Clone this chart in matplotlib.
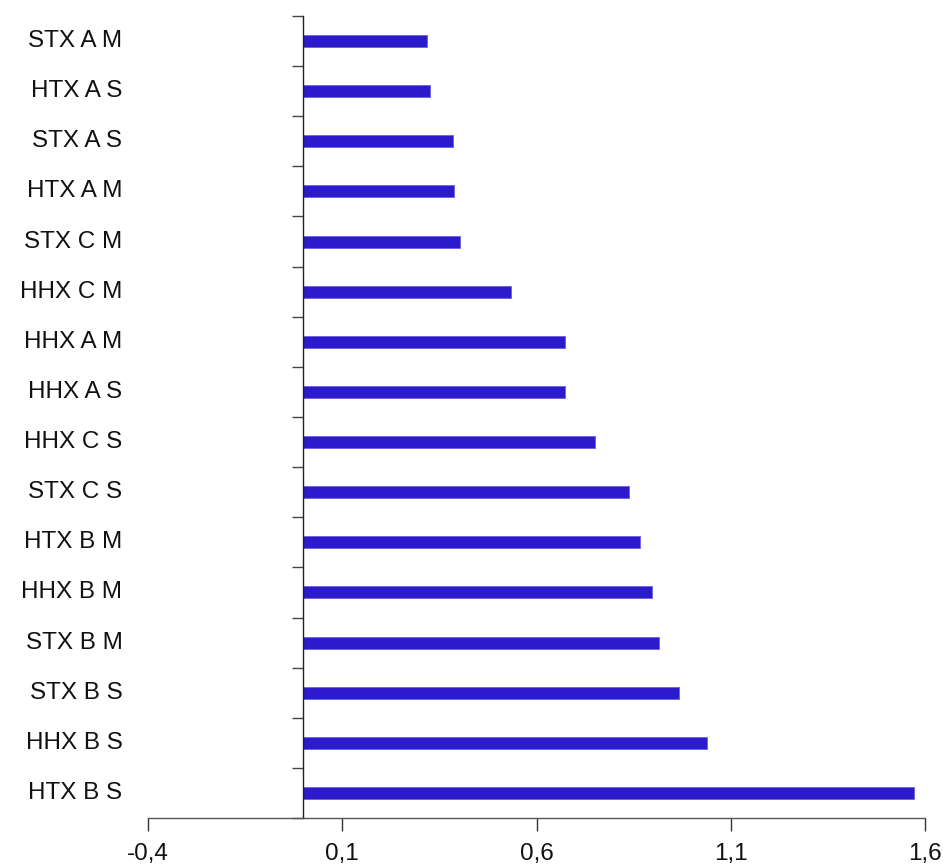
import matplotlib.pyplot as plt
from matplotlib.transforms import blended_transform_factory

# data (top to bottom)
labels = ['STX A M', 'HTX A S', 'STX A S', 'HTX A M', 'STX C M', 'HHX C M',
          'HHX A M', 'HHX A S', 'HHX C S', 'STX C S', 'HTX B M', 'HHX B M',
          'STX B M', 'STX B S', 'HHX B S', 'HTX B S']
values = [0.318, 0.326, 0.384, 0.388, 0.403, 0.534, 0.673, 0.673, 0.750,
          0.838, 0.866, 0.897, 0.915, 0.966, 1.038, 1.572]
xticks = [-0.4, 0.1, 0.6, 1.1, 1.6]
xtick_labels = ['-0,4', '0,1', '0,6', '1,1', '1,6']

plt.rcParams['font.family'] = ['Liberation Sans', 'DejaVu Sans']

fig = plt.figure(figsize=(9.43, 8.64), dpi=100)
ax = fig.add_axes([0.157, 0.0532, 0.824, 0.9283])

ypos = list(range(len(labels)))
ax.barh(ypos, values, height=0.24, color='#2B1BCC', edgecolor='#6B60E0', linewidth=0.6)

ax.set_xlim(-0.4, 1.6)
ax.set_ylim(len(labels) - 0.5, -0.5)

for s in ['top', 'right']:
    ax.spines[s].set_visible(False)
ax.spines['left'].set_position(('data', 0))
ax.spines['left'].set_color('#222222')
ax.spines['bottom'].set_color('#555555')
ax.spines['left'].set_linewidth(1.0)
ax.spines['bottom'].set_linewidth(1.0)

# y ticks at category boundaries, labels at the far left
ax.set_yticks([i - 0.5 for i in range(len(labels) + 1)])
ax.set_yticklabels([])
ax.tick_params(axis='y', direction='out', length=8, width=1.0, color='#444444')
trans = blended_transform_factory(ax.transAxes, ax.transData)
for i, lab in enumerate(labels):
    ax.text(-0.033, i, lab, transform=trans, ha='right', va='center', fontsize=17.5, color='#111111')

ax.set_xticks(xticks)
ax.set_xticklabels(xtick_labels, fontsize=17.5, color='#111111')
ax.tick_params(axis='x', direction='out', length=9, width=1.0, color='#333333', pad=9)

fig.savefig('out.png', dpi=100)
